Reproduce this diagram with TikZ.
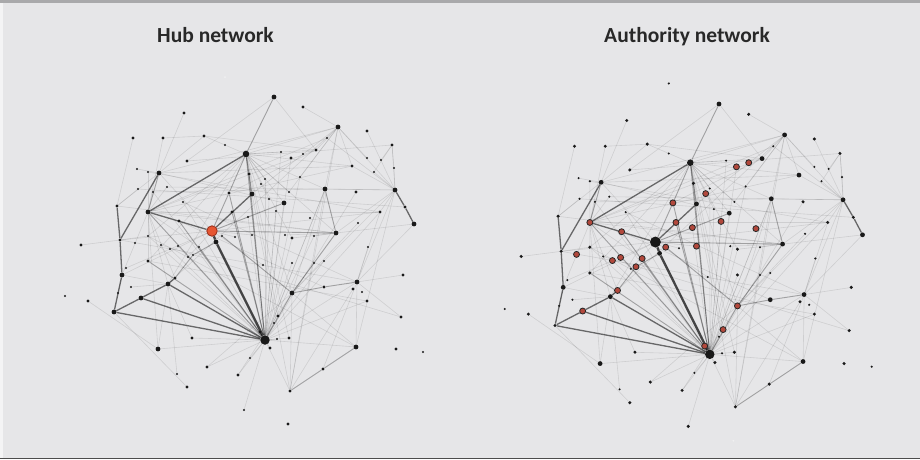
\documentclass[tikz,border=0pt]{standalone}
\usepackage{fontspec}
\setmainfont{Carlito}
\pgfdeclarelayer{background}
\pgfsetlayers{background,main}
\definecolor{bggray}{RGB}{230,230,232}
\definecolor{bargray}{RGB}{169,169,171}
\definecolor{hubred}{RGB}{230,86,50}
\definecolor{hubrim}{RGB}{150,45,25}
\definecolor{authred}{RGB}{178,72,60}
\definecolor{titlegray}{RGB}{40,40,40}
\tikzstyle{dot}=[circle, fill=black!90, inner sep=0pt]
\tikzstyle{dot0}=[dot, fill=white, opacity=.4, minimum size=2pt]
\tikzstyle{dot1}=[dot, minimum size=2.3pt]
\tikzstyle{dot2}=[dot, minimum size=3.4pt]
\tikzstyle{dot3}=[dot, minimum size=4.8pt]
\tikzstyle{dot4}=[dot, minimum size=6.6pt]
\tikzstyle{dot5}=[dot, minimum size=9.5pt]
\tikzstyle{dot7}=[dot, minimum size=11pt]
\tikzstyle{dot8}=[dot, fill=hubred, draw=hubrim, line width=.8pt, minimum size=10.5pt]
\tikzstyle{dot9}=[dot, fill=authred, draw=black!85, line width=.8pt, minimum size=6pt]
\tikzstyle{edge1}=[draw=black, opacity=.1, line width=.6pt]
\tikzstyle{edge2}=[draw=black, opacity=.3, line width=.9pt]
\tikzstyle{edge3}=[draw=black, opacity=.55, line width=1.3pt]
\tikzstyle{edge4}=[draw=black, opacity=.7, line width=2.3pt]
\tikzstyle{nettitle}=[anchor=base, text=titlegray, font=\bfseries\fontsize{21.5}{24}\selectfont]

\newcommand{\netnodes}{1/274/97/3/3, 2/303/107/2/2, 3/184/113/2/2, 4/338/127/3/3,
  5/367/131/2/2, 6/133/138/2/2, 7/163/138/2/2, 8/204/136/2/2, 9/225/145/1/1,
  10/246/154/4/4, 11/392/145/2/2, 12/316/150/2/3, 13/291/158/2/9, 14/281/152/1/1,
  15/303/154/1/9, 16/187/161/2/2, 17/352/166/2/3, 18/367/158/1/1, 19/381/160/1/1,
  20/137/169/1/1, 21/148/172/1/1, 22/159/173/3/3, 23/394/168/1/1, 24/249/174/2/2,
  25/265/179/1/1, 26/374/172/1/1, 27/300/177/1/1, 28/167/187/1/1, 29/138/189/1/1,
  30/153/192/1/1, 31/229/193/2/9, 32/261/184/1/9, 33/252/194/3/3, 34/325/189/3/3,
  35/356/192/2/2, 36/395/190/3/3, 37/289/192/1/1, 38/183/202/1/1, 39/269/199/1/1,
  40/284/203/3/3, 41/117/206/2/2, 42/148/212/3/9, 43/276/211/1/9, 44/232/212/2/9,
  45/380/212/2/2, 46/405/207/2/2, 47/248/217/1/9, 48/310/218/1/9, 49/414/224/3/3,
  50/358/223/1/1, 51/179/221/2/9, 52/212/231/8/7, 53/216/242/3/3, 54/235/237/1/1,
  55/252/235/1/9, 56/285/235/1/1, 57/292/238/2/2, 58/314/236/1/1, 59/336/233/3/3,
  60/120/240/2/2, 61/135/243/1/9, 62/148/236/1/2, 63/161/245/1/1, 64/170/249/1/9,
  65/178/246/1/9, 66/188/257/1/1, 67/193/255/1/9, 68/199/247/1/9, 69/222/236/1/9,
  70/81/245/2/2, 71/148/261/2/2, 72/126/268/1/1, 73/122/275/3/3, 74/131/287/1/1,
  75/118/293/1/1, 76/65/296/1/1, 77/88/301/2/2, 78/114/312/3/2, 79/141/298/3/9,
  80/168/284/3/3, 81/175/278/2/9, 82/263/265/1/1, 83/292/263/1/2, 84/314/263/1/1,
  85/324/261/1/1, 86/368/247/1/1, 87/403/275/2/2, 88/292/293/3/9, 89/324/287/2/3,
  90/357/282/3/3, 91/353/289/2/2, 92/362/292/1/1, 93/367/301/2/2, 94/401/317/2/2,
  95/278/316/2/9, 96/274/323/1/1, 97/265/340/5/5, 98/260/332/2/9, 99/270/348/2/2,
  100/277/339/1/1, 101/289/338/2/2, 102/192/338/2/2, 103/158/349/3/3, 104/356/347/3/3,
  105/396/349/2/2, 106/423/352/1/1, 107/323/369/2/2, 108/250/358/1/1, 109/207/367/2/2,
  110/238/375/2/2, 111/177/374/1/1, 112/187/387/2/2, 113/290/391/2/2, 114/244/410/1/2,
  115/288/424/2/0, 116/225/77/0/1, 117/327/138/1/1}

\newcommand{\netedges}{52/53/4, 53/97/4,
  42/52/3, 10/42/3, 78/97/3, 79/97/3, 80/97/3, 73/78/3, 60/73/3, 41/60/3, 22/60/3,
  78/79/3, 79/80/3, 52/33/3, 36/46/3, 46/49/3, 80/81/3,
  10/31/2, 31/52/2, 81/67/2, 67/53/2, 10/1/2, 52/59/2, 52/40/2, 69/88/2, 88/89/2,
  89/90/2, 88/59/2, 88/97/2, 10/97/2, 24/97/2, 31/97/2, 34/59/2, 22/42/2, 42/97/2,
  104/107/2, 107/113/2, 10/33/2, 51/97/2, 44/97/2, 68/97/2, 71/97/2,
  1/16/1, 1/12/1, 2/4/1, 3/22/1, 7/8/1, 8/9/1, 9/10/1, 8/22/1,
  10/4/1, 10/12/1, 10/14/1, 10/17/1, 10/34/1, 10/40/1, 10/59/1, 10/88/1, 10/24/1,
  10/25/1, 10/39/1, 10/62/1, 10/71/1, 10/80/1, 10/37/1, 10/57/1, 10/95/1, 10/101/1,
  4/12/1, 4/37/1, 4/34/1, 4/27/1, 4/36/1, 4/22/1, 4/17/1, 4/33/1, 4/80/1, 4/113/1,
  117/36/1, 117/42/1, 5/36/1, 11/36/1, 11/23/1, 11/26/1, 36/45/1, 36/34/1, 36/59/1,
  36/88/1, 36/17/1, 36/104/1, 36/90/1, 12/31/1, 12/42/1, 17/42/1, 17/22/1, 34/113/1,
  34/88/1, 34/97/1, 45/90/1, 45/42/1, 45/52/1, 90/104/1, 90/97/1, 91/113/1, 93/97/1,
  104/88/1, 104/97/1, 113/97/1, 113/33/1, 97/103/1,
  97/110/1, 97/109/1, 97/101/1, 97/99/1, 97/100/1, 97/96/1, 97/95/1, 97/62/1,
  97/38/1, 97/40/1, 97/34/1, 97/13/1, 97/14/1, 97/25/1, 97/39/1, 97/43/1, 97/47/1,
  97/57/1, 97/65/1, 97/64/1, 97/30/1, 103/42/1, 102/80/1, 78/112/1, 77/103/1,
  108/97/1, 110/88/1, 109/88/1, 41/59/1, 60/90/1, 71/93/1, 16/11/1, 8/12/1, 30/34/1,
  29/46/1, 21/45/1, 28/36/1, 38/90/1, 62/104/1, 63/94/1, 51/89/1, 42/59/1, 22/40/1,
  22/52/1, 42/68/1, 42/80/1, 42/81/1, 42/71/1, 42/30/1, 42/28/1, 42/21/1, 42/7/1,
  41/22/1, 41/29/1, 60/62/1, 73/52/1, 73/80/1, 73/42/1, 60/52/1, 59/57/1, 59/58/1,
  59/56/1, 52/54/1, 52/55/1, 18/4/1, 19/11/1, 23/36/1, 26/36/1, 87/90/1,
  70/60/1, 75/73/1, 74/80/1, 72/52/1, 66/52/1, 111/80/1, 103/80/1, 102/97/1,
  114/97/1, 113/88/1, 107/90/1, 49/90/1, 49/59/1, 45/97/1, 35/97/1, 50/88/1,
  27/97/1, 85/97/1, 84/88/1, 83/97/1, 82/52/1, 58/97/1, 86/90/1, 94/90/1, 20/22/1,
  6/41/1}

% #1 = name prefix, #2 = 1 for hub sizes, 2 for authority sizes
\newcommand{\drawnet}[2]{%
  \foreach \n/\x/\y/\hs/\as in \netnodes {
    \ifnum#2=1 \node[dot\hs] (#1\n) at (\x,\y) {};
    \else \node[dot\as] (#1\n) at (\x,\y) {};
    \fi
  }
  \begin{pgfonlayer}{background}
    \foreach \p/\q/\w in \netedges
      \draw[edge\w] (#1\p) -- (#1\q);
  \end{pgfonlayer}
}

\begin{document}
\begin{tikzpicture}[x=1pt, y=-1pt]
  \begin{pgfonlayer}{background}
    \fill[bggray] (0,0) rectangle (920,459);
    \fill[white!55!bggray] (0,0) rectangle (2.5,459);
    \fill[bargray] (0,0) rectangle (920,3);
    \fill[black!70] (0,457.5) rectangle (920,459);
  \end{pgfonlayer}
  \useasboundingbox (0,0) rectangle (920,459);

  \node[nettitle] (hubtitle) at (215.5,42.5) {Hub network};
  \node[nettitle] (authtitle) at (687,42.5) {Authority network};

  \begin{scope}
    \drawnet{h}{1}
  \end{scope}
  \begin{scope}[shift={(438.15,4.09)}, xscale=1.025, yscale=1.03]
    \drawnet{a}{2}
  \end{scope}
\end{tikzpicture}
\end{document}
